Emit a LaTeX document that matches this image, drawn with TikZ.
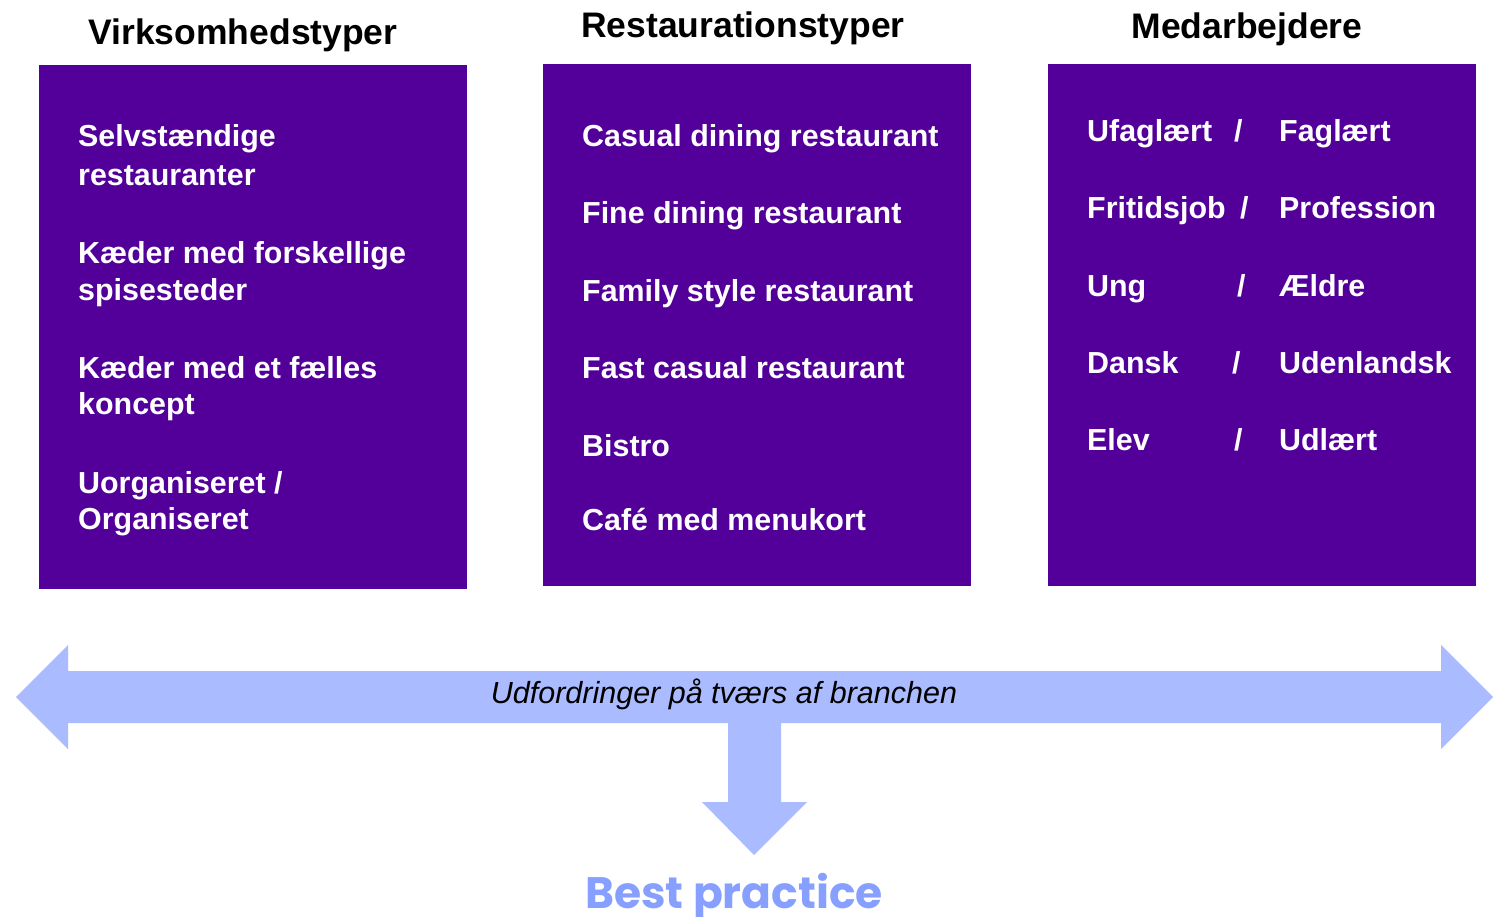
\documentclass[tikz,border=0pt]{standalone}
\usepackage{fontspec}
\setmainfont{Liberation Sans}
\newfontfamily\bpfont{Poppins}
\definecolor{boxpurple}{RGB}{82,0,153}
\definecolor{arrowblue}{RGB}{170,187,255}
\definecolor{bpblue}{RGB}{135,160,255}
\begin{document}
\begin{tikzpicture}[x=1pt,y=-1pt,
  panel/.style={fill=boxpurple,draw=none},
  heading/.style={font=\bfseries\fontsize{35.5}{38}\selectfont,text=black,inner sep=0pt,anchor=base},
  item/.style={font=\bfseries\fontsize{30.4}{34}\selectfont,text=white,inner sep=0pt,anchor=base west},
  flow/.style={fill=arrowblue,draw=none}]
\useasboundingbox (0,0) rectangle (1494,916);

% column panels
\path[panel] (39,65) rectangle (467,589);
\path[panel] (543,64) rectangle (971,586);
\path[panel] (1048,64) rectangle (1476,586);

% headings
\node[heading] (h1) at (243,44) {Virksomhedstyper};
\node[heading] (h2) at (743,37) {Restaurationstyper};
\node[heading] (h3) at (1247,38) {Medarbejdere};

% business types
\node[item] (v1a) at (78,146) {Selvstændige};
\node[item] (v1b) at (78,185) {restauranter};
\node[item] (v2a) at (78,263) {Kæder med forskellige};
\node[item] (v2b) at (78,300) {spisesteder};
\node[item] (v3a) at (78,378) {Kæder med et fælles};
\node[item] (v3b) at (78,414) {koncept};
\node[item] (v4a) at (78,493) {Uorganiseret /};
\node[item] (v4b) at (78,529) {Organiseret};

% restaurant types
\node[item] (r1) at (582,146) {Casual dining restaurant};
\node[item] (r2) at (582,223) {Fine dining restaurant};
\node[item] (r3) at (582,301) {Family style restaurant};
\node[item] (r4) at (582,378) {Fast casual restaurant};
\node[item] (r5) at (582,456) {Bistro};
\node[item] (r6) at (582,530) {Café med menukort};

% employees: left term, slash, right term
\foreach \l/\s/\r/\y/\n in {Ufaglært/1234/Faglært/141/1, Fritidsjob/1240/Profession/218/2, Ung/1237/Ældre/296/3, Dansk/1232/Udenlandsk/373/4, Elev/1234/Udlært/450/5}{
  \node[item] (ml\n) at (1087,\y) {\l};
  \node[item] (ms\n) at (\s,\y) {/};
  \node[item] (mr\n) at (1279,\y) {\r};
}

% double arrow across the industry with a branch downwards
\path[flow] (16,697) -- (68,645) -- (68,671) -- (1441,671) -- (1441,645)
  -- (1493,697) -- (1441,749) -- (1441,723) -- (781,723) -- (781,802)
  -- (807,802) -- (754,855) -- (702,802) -- (728,802) -- (728,723)
  -- (68,723) -- (68,749) -- cycle;
\node[font=\itshape\fontsize{30.5}{32}\selectfont,inner sep=0pt,anchor=base] (band) at (724,703) {Udfordringer på tværs af branchen};

\node[font=\bpfont\bfseries\fontsize{44}{46}\selectfont,text=bpblue,inner sep=0pt,anchor=base] (bp) at (734,908) {Best practice};
\end{tikzpicture}
\end{document}
